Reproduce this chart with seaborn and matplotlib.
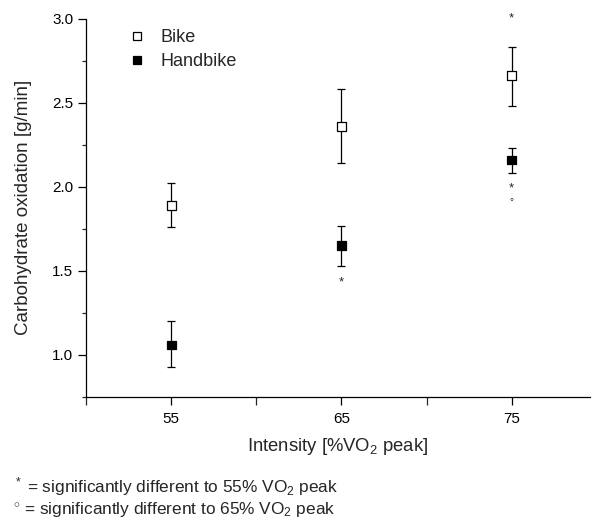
import pandas as pd
import matplotlib
matplotlib.use("Agg")
import matplotlib.pyplot as plt
import seaborn as sns
from matplotlib.ticker import MultipleLocator

# valores
intensidade = [55, 65, 75]
bike_media = [1.89, 2.36, 2.66]
bike_erro_sup = [0.13, 0.22, 0.17]
bike_erro_inf = [0.13, 0.22, 0.18]
hand_media = [1.06, 1.65, 2.16]
hand_erro_sup = [0.14, 0.12, 0.07]
hand_erro_inf = [0.13, 0.12, 0.08]

# simbolos de significancia (x, y, simbolo)
sig_x = [75, 75, 75, 65]
sig_y = [3.00, 1.99, 1.91, 1.43]
sig_txt = ["*", "*", "°", "*"]

dados = pd.DataFrame({
    "intensidade": intensidade * 2,
    "cho": bike_media + hand_media,
    "grupo": ["Bike"] * 3 + ["Handbike"] * 3,
})

sns.set_style("ticks")
plt.rcParams["font.family"] = ["Liberation Sans", "DejaVu Sans"]
plt.rcParams["mathtext.fontset"] = "custom"
plt.rcParams["mathtext.rm"] = "Liberation Sans"
plt.rcParams["mathtext.it"] = "Liberation Sans:italic"

fig = plt.figure(figsize=(5.93, 5.2), dpi=100)
ax = fig.add_axes([0.145, 0.2365, 0.85, 0.7275])

ax.errorbar(intensidade, bike_media, yerr=[bike_erro_inf, bike_erro_sup],
            fmt="none", ecolor="black", elinewidth=0.9, capsize=3, capthick=0.9, zorder=1)
ax.errorbar(intensidade, hand_media, yerr=[hand_erro_inf, hand_erro_sup],
            fmt="none", ecolor="black", elinewidth=0.9, capsize=3, capthick=0.9, zorder=1)

sns.scatterplot(data=dados, x="intensidade", y="cho", hue="grupo", style="grupo",
                markers={"Bike": "s", "Handbike": "s"},
                palette={"Bike": "white", "Handbike": "black"},
                edgecolor="black", linewidth=0.9, s=40, ax=ax, zorder=3)

for x, y, t in zip(sig_x, sig_y, sig_txt):
    tam = 9.5 if t == "*" else 7
    ax.text(x, y, t, ha="center", va="center", fontsize=tam, clip_on=False)

ax.set_xlim(50, 79.6)
ax.set_ylim(0.75, 3.0)
ax.set_xticks([55, 65, 75])
ax.set_xticks([50, 60, 70], minor=True)
ax.yaxis.set_minor_locator(MultipleLocator(0.25))
ax.set_yticks([1.0, 1.5, 2.0, 2.5, 3.0])
ax.set_yticklabels(["1.0", "1.5", "2.0", "2.5", "3.0"])
ax.tick_params(which="major", length=6, width=0.9, labelsize=11, colors="black", pad=3)
ax.tick_params(which="minor", length=3, width=0.9)
ax.tick_params(axis="x", which="both", length=6, pad=5)
for s in ["top", "right"]:
    ax.spines[s].set_visible(False)
for s in ["left", "bottom"]:
    ax.spines[s].set_linewidth(0.9)
    ax.spines[s].set_color("black")

ax.set_xlabel("Intensity [%VO$_2$ peak]", fontsize=13.3, labelpad=7)
ax.set_ylabel("Carbohydrate oxidation [g/min]", fontsize=13.5, labelpad=15)

leg = ax.legend(loc="upper left", bbox_to_anchor=(0.043, 1.016), frameon=False,
                fontsize=13, handletextpad=0.5, labelspacing=0.4, handlelength=1.5)
for h in leg.legend_handles:
    h.set_markeredgecolor("black")

fig.text(0.022, 0.053, "$^*$ = significantly different to 55% VO$_2$ peak", fontsize=12.4)
fig.text(0.022, 0.011, "$^{\\circ}$ = significantly different to 65% VO$_2$ peak", fontsize=12.4)

fig.savefig("out.png", dpi=100)
